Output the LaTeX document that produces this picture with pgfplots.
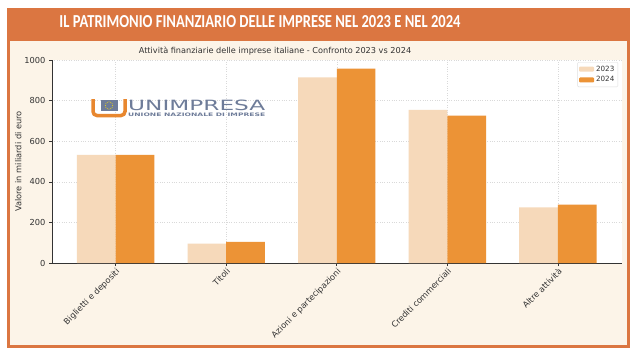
\documentclass[border=0pt]{standalone}
\usepackage{pgfplots}
\pgfplotsset{compat=1.18}
\usepackage{graphicx}
\usepackage{fontspec}
\setmainfont{DejaVu Sans}
\newfontfamily\titlefont{Carlito}
\definecolor{framec}{HTML}{DB7641}
\definecolor{creamc}{HTML}{FCF4E8}
\definecolor{c23}{HTML}{F6D9BA}
\definecolor{c24}{HTML}{EC9336}
\definecolor{axc}{HTML}{333333}
\definecolor{labc}{HTML}{333333}
\definecolor{slate}{HTML}{6E7C99}
\definecolor{logoor}{HTML}{E8872F}
\begin{document}
\begin{tikzpicture}[x=1bp,y=1bp]
\fill[white] (0,0) rectangle (640,356);
\fill[framec] (7,8) rectangle (630,348);
\fill[creamc] (10,11) rectangle (627,315);
\node[text=white, inner sep=0] at (260,334.3) {\resizebox{401bp}{12bp}{\titlefont\bfseries IL PATRIMONIO FINANZIARIO DELLE IMPRESE NEL 2023 E NEL 2024}};
\node[text=labc, font=\fontsize{8.2}{9}\selectfont] at (275,305) {Attività finanziarie delle imprese italiane - Confronto 2023 vs 2024};
\begin{axis}[
  at={(52bp,93bp)}, anchor=south west, scale only axis,
  width=570bp, height=203bp,
  xmin=-0.576, xmax=4.58, ymin=0, ymax=1000,
  ybar=0pt, bar width=0.35,
  axis x line*=bottom, axis y line*=left,
  axis line style={draw=axc, line width=0.9bp, -},
  axis background/.style={fill=white},
  xtick={0,1,2,3,4},
  xticklabels={Biglietti e depositi, Titoli, Azioni e partecipazioni, Crediti commerciali, Altre attività},
  ytick={0,200,400,600,800,1000},
  tick align=outside, major tick length=3bp,
  tick style={draw=axc, line width=0.6bp},
  grid=major, grid style={dotted, draw=gray!30, line width=0.5bp},
  ticklabel style={font=\fontsize{8.3}{9}\selectfont, text=labc},
  /pgf/number format/assume math mode=true,
  /pgf/number format/1000 sep={},
  xticklabel style={rotate=45, anchor=north east, inner sep=1bp},
  ylabel={Valore in miliardi di euro},
  ylabel shift=-4bp,
  ylabel style={font=\fontsize{8.3}{9}\selectfont, text=labc},
  legend style={at={(0.993,0.99)}, anchor=north east, draw=gray!25, fill=white,
    rounded corners=1bp, font=\fontsize{7.2}{8}\selectfont, text=labc,
    inner sep=1.5bp, row sep=0pt},
  legend cell align=left,
  legend image code/.code={\fill[#1] (0bp,-2.5bp) rectangle (15bp,2.5bp);},
]
\addplot[fill=c23, draw=none] coordinates {(0,533) (1,95) (2,915) (3,754) (4,274)};
\addplot[fill=c24, draw=none] coordinates {(0,533) (1,104) (2,957) (3,726) (4,287)};
\legend{2023,2024}
\end{axis}
% logo
\draw[logoor, line width=3.5bp, rounded corners=4bp] (93,257) -- (93,240.5) -- (125,240.5) -- (125,257);
\fill[slate] (100.5,245) rectangle (117.5,256);
\foreach \a in {0,30,...,330} \fill[yellow!80!orange] ({109+3.6*cos(\a)},{250.5+3.6*sin(\a)}) circle (0.45);
\node[anchor=south west, inner sep=0, text=slate] at (128,245) {\resizebox{137bp}{10.5bp}{UNIMPRESA}};
\node[anchor=south west, inner sep=0, text=slate] at (128,239.5) {\resizebox{137bp}{3.5bp}{\bfseries UNIONE NAZIONALE DI IMPRESE}};
\end{tikzpicture}
\end{document}
